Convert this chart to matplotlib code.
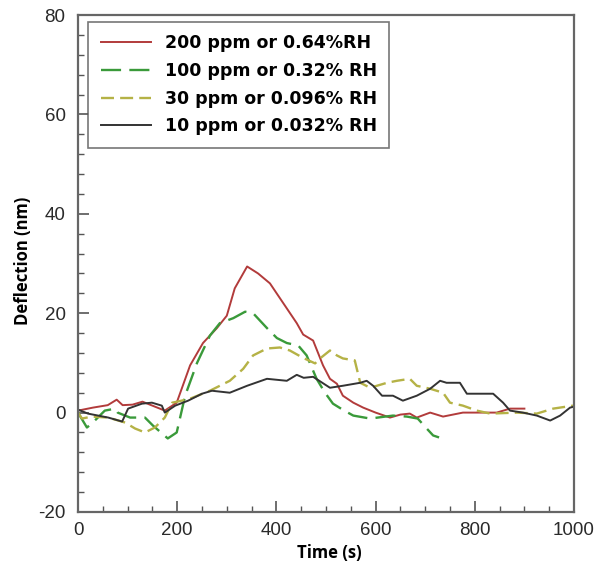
import matplotlib
matplotlib.use("Agg")
import matplotlib.pyplot as plt
from matplotlib.ticker import MultipleLocator

plt.rcParams["axes.unicode_minus"] = False

# 200 ppm
t_red = [0, 30, 60, 78, 90, 110, 130, 150, 175, 199, 226, 252, 280, 300, 316, 341, 363, 387, 414,
         441, 454, 474, 494, 508, 522, 534, 555, 575, 600, 629, 650, 669, 683, 710, 736, 776, 844, 871, 900]
d_red = [0.4, 1.0, 1.5, 2.6, 1.5, 1.6, 2.2, 1.4, 0.4, 2.0, 9.5, 14.0, 17.0, 19.5, 25.0, 29.4, 28.0, 26.0, 22.0,
         18.0, 15.7, 14.5, 9.5, 6.8, 5.8, 3.4, 2.0, 1.0, 0.0, -1.0, -0.4, -0.2, -1.0, 0.0, -0.8, 0.0, 0.0, 0.8, 0.8]

# 100 ppm
t_grn = [0, 18, 30, 54, 75, 80, 105, 135, 151, 181, 199, 216, 240, 266, 286, 313, 337, 353, 381, 401,
         421, 444, 461, 481, 498, 514, 535, 555, 589, 635, 663, 685, 703, 716, 728]
d_grn = [0.0, -3.0, -2.0, 0.4, 0.8, 0.0, -1.0, -1.0, -2.6, -5.2, -4.0, 3.4, 10.0, 15.5, 18.0, 19.0, 20.3, 20.0, 17.0, 15.0,
         14.0, 13.5, 11.5, 6.8, 4.0, 1.8, 0.5, -0.6, -1.2, -0.6, -0.8, -1.2, -3.2, -4.6, -5.0]

# 30 ppm
t_yel = [0, 8, 28, 61, 95, 115, 135, 155, 175, 190, 200, 226, 266, 306, 333, 353, 381, 407, 427, 454,
         478, 488, 508, 522, 534, 558, 569, 589, 623, 643, 669, 683, 710, 736, 750, 776, 804, 831, 885, 925, 958, 998]
d_yel = [0.0, -1.2, -0.8, -1.0, -2.0, -3.2, -4.0, -3.0, -1.0, 2.0, 2.2, 2.8, 4.4, 6.4, 8.8, 11.5, 12.9, 13.1, 12.5, 11.0,
         9.9, 10.9, 12.5, 11.5, 10.9, 10.5, 6.0, 5.0, 6.0, 6.4, 6.8, 5.4, 4.8, 4.0, 2.0, 1.4, 0.4, -0.2, 0.0, -0.2, 0.8, 1.4]

# 10 ppm
t_blk = [0, 20, 61, 89, 101, 129, 149, 169, 175, 196, 222, 250, 270, 306, 341, 381, 421, 441, 455, 474,
         508, 534, 569, 582, 595, 613, 635, 655, 683, 710, 730, 743, 770, 784, 810, 837, 857, 871, 897, 925, 952, 972, 992, 1000]
d_blk = [0.6, -0.2, -1.0, -1.8, 0.8, 1.8, 2.0, 1.4, 0.0, 1.4, 2.4, 3.8, 4.4, 4.0, 5.4, 6.8, 6.4, 7.6, 7.0, 7.2,
         5.0, 5.4, 6.0, 6.4, 5.4, 3.4, 3.4, 2.4, 3.4, 4.8, 6.4, 6.0, 6.0, 3.8, 3.8, 3.8, 2.0, 0.4, 0.0, -0.6, -1.6, -0.6, 1.0, 1.2]

labels = ["200 ppm or 0.64%RH", "100 ppm or 0.32% RH", "30 ppm or 0.096% RH", "10 ppm or 0.032% RH"]

fig = plt.figure(figsize=(5.98, 5.70), dpi=100)
ax = fig.add_axes([78/598, 58/570, (574-78)/598, (512-15)/570])

ax.plot(t_red, d_red, color="#b23b3b", lw=1.4, label=labels[0])
ax.plot(t_grn, d_grn, color="#3a9a3a", lw=1.7, dashes=(8.5, 3.5), label=labels[1])
ax.plot(t_yel, d_yel, color="#b5b246", lw=1.7, dashes=(5.5, 2.6), label=labels[2])
ax.plot(t_blk, d_blk, color="#333333", lw=1.4, label=labels[3])

ax.set_xlim(0, 1000)
ax.set_ylim(-20, 80)
ax.xaxis.set_major_locator(MultipleLocator(200))
ax.xaxis.set_minor_locator(MultipleLocator(50))
ax.yaxis.set_major_locator(MultipleLocator(20))
ax.yaxis.set_minor_locator(MultipleLocator(4))
ax.tick_params(which="both", direction="in", top=False, right=False, colors="#555555",
               labelcolor="#2a2a2a", labelsize=13.5)
ax.tick_params(which="major", length=8, width=1.2)
ax.tick_params(which="minor", length=4, width=1.0)
ax.tick_params(axis="y", pad=9)
ax.tick_params(axis="x", pad=7)
for lbl in ax.get_xticklabels() + ax.get_yticklabels():
    lbl.set_family("Liberation Sans")
for s in ax.spines.values():
    s.set_color("#666666")
    s.set_linewidth(1.6)

ax.set_xlabel("Time (s)", fontsize=12, fontweight="bold", family="Open Sans", va="center")
ax.set_ylabel("Deflection (nm)", fontsize=12, fontweight="bold", family="Open Sans", va="center")
ax.xaxis.set_label_coords(0.506, -0.083)
ax.yaxis.set_label_coords(-0.111, 0.505)

leg = ax.legend(loc="upper left", bbox_to_anchor=(10/496, 1 - 7/497), frameon=True, fancybox=False,
                prop={"family": "DejaVu Sans", "weight": "bold", "size": 12.5},
                handlelength=2.9, handletextpad=0.8, labelspacing=0.55, borderpad=0.72,
                borderaxespad=0.0)
leg.get_frame().set_edgecolor("#555555")
leg.get_frame().set_linewidth(1.2)

fig.savefig("out.png", dpi=100)
